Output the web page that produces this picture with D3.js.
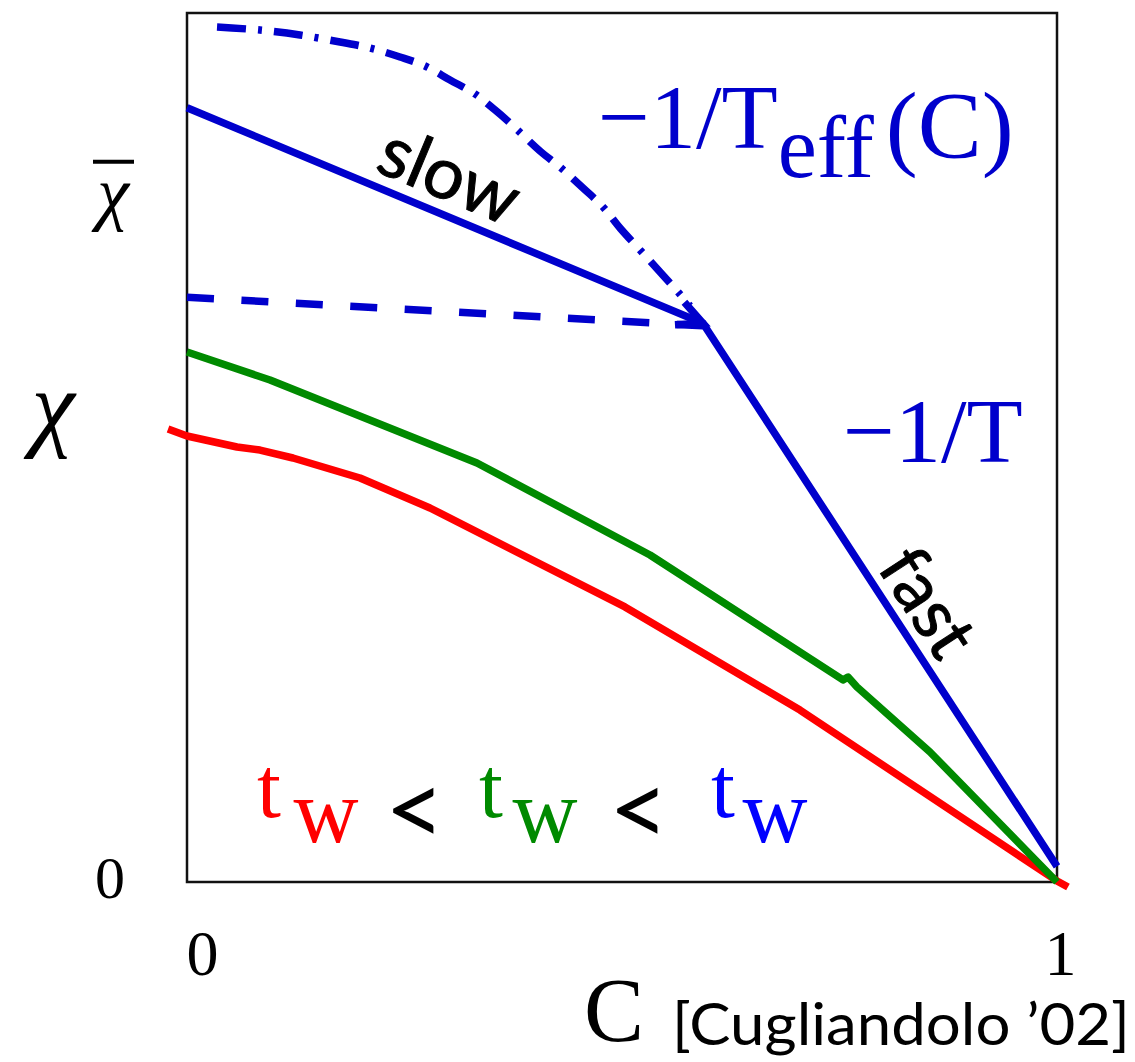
<!DOCTYPE html>
<html>
<head>
<meta charset="utf-8">
<script src="https://cdn.jsdelivr.net/npm/d3@7"></script>
<style>
  html, body { margin: 0; padding: 0; background: #fff; }
  svg { display: block; }
</style>
</head>
<body>
<svg id="chart" width="1135" height="1062"></svg>
<script>
// ---- data: susceptibility chi versus correlation C ----
// axis ticks
const cTicks = [0, 1];
const cTickLabels = ["0", "1"];
const chiTicks = [0, 0.509, 0.785];
const chiTickLabels = ["0", "\u03C7", "\u03C7"];   // last one carries an overbar (chi-bar)

// longest waiting time: slow (aging) branch and fast (FDT) branch
const blueC   = [0, 0.593, 1];
const blueChi = [0.891, 0.643, 0.018];

// dashed horizontal-ish branch leading into the break point
const dashedC   = [0, 0.593];
const dashedChi = [0.673, 0.640];

// dash-dotted curved branch (continuous replica-symmetry-breaking form)
const dashDotC   = [0.0345, 0.0839, 0.1299, 0.1759, 0.2103, 0.2448, 0.2736, 0.3023, 0.3310, 0.3540,
                    0.3713, 0.4057, 0.4287, 0.4552, 0.4782, 0.4977, 0.5207, 0.5437, 0.5644, 0.5782];
const dashDotChi = [0.9839, 0.9804, 0.9747, 0.9666, 0.9597, 0.9494, 0.9390, 0.9229, 0.9068, 0.8884,
                    0.8734, 0.8412, 0.8228, 0.7986, 0.7768, 0.7526, 0.7273, 0.7020, 0.6789, 0.6628];

// intermediate waiting time
const greenC   = [0, 0.0954, 0.3333, 0.5322, 0.7540, 0.7598, 0.7701, 0.8540, 1];
const greenChi = [0.6099, 0.5777, 0.4822, 0.3763, 0.2325, 0.2359, 0.2244, 0.1496, 0];

// shortest waiting time
const redC   = [-0.0218, 0, 0.0575, 0.0839, 0.1218, 0.1989, 0.2793, 0.5034, 0.7046, 1, 1.0126];
const redChi = [0.5213, 0.5132, 0.5006, 0.4971, 0.4879, 0.4649, 0.4304, 0.3165, 0.1979, 0.0012, -0.0058];

// ---- layout ----
const svg = d3.select("#chart");
const x = d3.scaleLinear().domain([0, 1]).range([187, 1057]);
const y = d3.scaleLinear().domain([0, 1]).range([882, 13]);

const SERIF = "'Liberation Serif', 'Times New Roman', serif";
const SANS = "Lato, 'Open Sans', sans-serif";
const BLUE = "#0000cc", GREEN = "#008a00", RED = "#ff0000";
const LW = 7.5;

const zip = (a, b) => a.map((v, i) => [v, b[i]]);
const line = d3.line().x(d => x(d[0])).y(d => y(d[1]));
const curve = d3.line().x(d => x(d[0])).y(d => y(d[1])).curve(d3.curveCatmullRom.alpha(0.5));

// frame
svg.append("rect")
  .attr("x", x(0)).attr("y", y(1))
  .attr("width", x(1) - x(0)).attr("height", y(0) - y(1))
  .attr("fill", "none").attr("stroke", "#111").attr("stroke-width", 2.5);

// axes (labels only)
const xAxis = svg.append("g")
  .attr("transform", `translate(0,${y(0)})`)
  .call(d3.axisBottom(x).tickValues(cTicks).tickSize(0).tickFormat((d, i) => cTickLabels[i]));
xAxis.select(".domain").remove();
xAxis.selectAll("text")
  .attr("font-family", SERIF).attr("font-size", 64).attr("fill", "#000")
  .attr("y", 93).attr("dy", 0)
  .attr("dx", (d, i) => i === 0 ? 15 : 3);

const yAxis = svg.append("g")
  .attr("transform", `translate(${x(0)},0)`)
  .call(d3.axisLeft(y).tickValues(chiTicks).tickSize(0).tickFormat((d, i) => chiTickLabels[i]));
yAxis.select(".domain").remove();
const yLabelX = [-77, -134, -74];
const yLabelSize = [60, 98, 72];
const yLabelBase = [15, -2, 17];
yAxis.selectAll("text")
  .attr("font-family", SERIF).attr("fill", "#000")
  .attr("text-anchor", "middle")
  .attr("font-style", (d, i) => i === 0 ? "normal" : "italic")
  .attr("x", (d, i) => yLabelX[i])
  .attr("dy", 0)
  .attr("y", (d, i) => yLabelBase[i])
  .attr("font-size", (d, i) => yLabelSize[i]);
// overbar on chi-bar
yAxis.append("line")
  .attr("x1", yLabelX[2] - 20).attr("x2", yLabelX[2] + 21)
  .attr("y1", y(chiTicks[2]) - 38).attr("y2", y(chiTicks[2]) - 38)
  .attr("stroke", "#000").attr("stroke-width", 4);

// curves
svg.append("path").datum(zip(dashDotC, dashDotChi))
  .attr("d", curve).attr("fill", "none").attr("stroke", BLUE)
  .attr("stroke-width", LW).attr("stroke-dasharray", "29,12,4,12");

svg.append("path").datum(zip(dashedC, dashedChi))
  .attr("d", line).attr("fill", "none").attr("stroke", BLUE)
  .attr("stroke-width", LW).attr("stroke-dasharray", "27,27.5");

svg.append("path").datum(zip(redC, redChi))
  .attr("d", line).attr("fill", "none").attr("stroke", RED)
  .attr("stroke-width", LW).attr("stroke-linejoin", "round");

svg.append("path").datum(zip(greenC, greenChi))
  .attr("d", line).attr("fill", "none").attr("stroke", GREEN)
  .attr("stroke-width", LW).attr("stroke-linejoin", "round");

svg.append("path").datum(zip(blueC, blueChi))
  .attr("d", line).attr("fill", "none").attr("stroke", BLUE)
  .attr("stroke-width", LW).attr("stroke-linejoin", "miter");

// open arrowhead where the slow branch meets the fast branch
{
  const tip = [x(blueC[1]), y(blueChi[1])];
  const from = [x(blueC[0]), y(blueChi[0])];
  const ang = Math.atan2(tip[1] - from[1], tip[0] - from[0]);
  const len = 28, half = 26 * Math.PI / 180;
  const b1 = [tip[0] - len * Math.cos(ang - half), tip[1] - len * Math.sin(ang - half)];
  const b2 = [tip[0] - len * Math.cos(ang + half), tip[1] - len * Math.sin(ang + half)];
  svg.append("path")
    .attr("d", `M${b1}L${tip}L${b2}`)
    .attr("fill", "none").attr("stroke", BLUE).attr("stroke-width", LW)
    .attr("stroke-linejoin", "miter");
}

// branch annotations, set along the lines
function along(label, c0, chi0, c1, chi1, t, offset, size) {
  const p0 = [x(c0), y(chi0)], p1 = [x(c1), y(chi1)];
  const ang = Math.atan2(p1[1] - p0[1], p1[0] - p0[0]);
  const px = p0[0] + (p1[0] - p0[0]) * t, py = p0[1] + (p1[1] - p0[1]) * t;
  const nx = Math.sin(ang) * offset, ny = -Math.cos(ang) * offset;
  svg.append("text")
    .attr("transform", `translate(${px + nx},${py + ny}) rotate(${ang * 180 / Math.PI})`)
    .attr("text-anchor", "middle")
    .attr("font-family", SANS).attr("font-size", size).attr("fill", "#000")
    .attr("stroke", "#000").attr("stroke-width", 1)
    .text(label);
}
along("slow", blueC[0], blueChi[0], blueC[1], blueChi[1], 0.48, 14, 72);
along("fast", blueC[1], blueChi[1], blueC[2], blueChi[2], 0.55, 12, 70);

// temperature labels
const teff = svg.append("text")
  .attr("x", 598).attr("y", 148)
  .attr("font-family", SERIF).attr("fill", BLUE).attr("font-size", 92);
teff.append("tspan").text("\u22121/T");
teff.append("tspan").attr("font-size", 88).attr("dy", 29).text("eff");
teff.append("tspan").attr("font-size", 96).attr("dx", 12).attr("dy", -19).text("(C)");

svg.append("text")
  .attr("x", 843).attr("y", 462)
  .attr("font-family", SERIF).attr("fill", BLUE).attr("font-size", 92)
  .text("\u22121/T");

// waiting-time ordering
const order = [
  { t: "t", w: "w", color: RED, tx: 269, wx: 326 },
  { t: "t", w: "w", color: "#008a00", tx: 491, wx: 545 },
  { t: "t", w: "w", color: "#0000ff", tx: 723, wx: 775 }
];
order.forEach(o => {
  svg.append("text").attr("x", o.tx).attr("y", 817).attr("text-anchor", "middle")
    .attr("font-family", SERIF).attr("font-size", 86).attr("fill", o.color).text(o.t);
  svg.append("text").attr("x", o.wx).attr("y", 842).attr("text-anchor", "middle")
    .attr("font-family", SERIF).attr("font-size", 90).attr("fill", o.color).text(o.w);
});
[415, 639].forEach(cx => {
  svg.append("text").attr("x", cx).attr("y", 846).attr("text-anchor", "middle")
    .attr("font-family", SANS).attr("font-size", 104).attr("fill", "#000").text("<");
});

// axis title and reference
svg.append("text").attr("x", 584).attr("y", 1041)
  .attr("font-family", SERIF).attr("font-size", 90).attr("fill", "#000").text("C");
svg.append("text").attr("x", 672).attr("y", 1045)
  .attr("font-family", SANS).attr("font-size", 58).attr("fill", "#000")
  .attr("textLength", 458).attr("lengthAdjust", "spacingAndGlyphs")
  .text("[Cugliandolo \u201902]");
</script>
</body>
</html>
